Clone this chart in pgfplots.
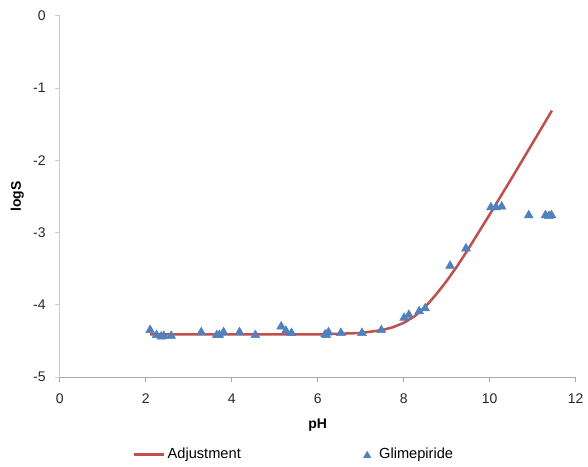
\documentclass[border=0pt]{standalone}
\usepackage{pgfplots}
\pgfplotsset{compat=1.18}
\usepackage{fontspec}
\setmainfont{Liberation Sans}
\definecolor{exred}{HTML}{C0504D}
\definecolor{exblue}{HTML}{4F81BD}
\begin{document}
\fontsize{10.5}{12}\selectfont
\begin{tikzpicture}
\begin{axis}[
  scale only axis, width=387.75pt, height=271.5pt,
  xmin=0, xmax=12, ymin=-5, ymax=0,
  xtick={0,2,...,12}, ytick={-5,-4,...,0},
  axis x line*=bottom, axis y line*=left,
  x axis line style={gray!70, line width=0.8pt},
  y axis line style={gray!40, line width=0.8pt},
  xtick style={gray!70, line width=0.8pt},
  ytick style={gray!40, line width=0.8pt},
  tick align=outside, major tick length=4pt,
  /pgf/number format/assume math mode=true,
  tick label style={font=\fontsize{10.5}{12}\selectfont, text=black!85},
  xticklabel style={yshift=-5pt},
  yticklabel style={xshift=-3pt},
  xlabel={\textbf{pH}}, ylabel={\textbf{logS}},
  label style={font=\fontsize{10.5}{12}\selectfont},
  xlabel style={at={(axis description cs:0.5,0)}, anchor=center, yshift=-36pt},
  ylabel style={at={(axis description cs:0,0.5)}, anchor=center, yshift=32pt},
  clip=false,
  legend columns=2,
  legend style={draw=none, at={(0.455,-0.215)}, anchor=center,
    font=\fontsize{11}{12}\selectfont,
    /tikz/every even column/.append style={column sep=90pt}},
]
\addplot[exred, line width=1.9pt, no marks,
  legend image code/.code={\draw[exred, line width=1.9pt] (0cm,0cm) -- (22pt,0cm);}]
  coordinates {(2.1,-4.41)(3,-4.41)(4,-4.41)(5,-4.41)(6,-4.41)(6.5,-4.40)
  (7,-4.39)(7.5,-4.35)(7.75,-4.31)(8,-4.25)(8.25,-4.16)(8.5,-4.03)
  (8.75,-3.86)(9,-3.67)(9.25,-3.46)(9.5,-3.23)(10,-2.75)(10.5,-2.26)
  (11,-1.76)(11.45,-1.31)};
\addlegendentry{Adjustment}
\addplot[only marks, mark=triangle*, mark size=3.8pt,
  mark options={fill=exblue, draw=exblue},
  legend image code/.code={\fill[exblue, draw=none] (-3pt,-2.3pt) -- (3pt,-2.3pt) -- (0pt,3pt) -- cycle; \path[draw=none] (-3pt,0pt) -- (7pt,0pt);}]
  coordinates {
  (2.10,-4.35)(2.25,-4.42)(2.36,-4.44)(2.42,-4.43)(2.59,-4.43)
  (3.29,-4.38)(3.65,-4.42)(3.71,-4.42)(3.81,-4.38)(4.18,-4.38)
  (4.55,-4.42)(5.15,-4.30)(5.26,-4.36)(5.39,-4.39)(6.17,-4.41)
  (6.20,-4.42)(6.25,-4.38)(6.54,-4.39)(7.03,-4.39)(7.48,-4.35)
  (8.01,-4.18)(8.12,-4.14)(8.36,-4.09)(8.50,-4.05)(9.08,-3.46)
  (9.45,-3.22)(10.03,-2.65)(10.15,-2.65)(10.28,-2.64)(10.91,-2.76)
  (11.30,-2.76)(11.38,-2.77)(11.44,-2.76)};
\addlegendentry{Glimepiride}
\end{axis}
\path[use as bounding box] ([xshift=-45pt,yshift=-65.25pt]current axis.south west)
  rectangle ([xshift=396pt,yshift=283.5pt]current axis.south west);
\end{tikzpicture}
\end{document}
